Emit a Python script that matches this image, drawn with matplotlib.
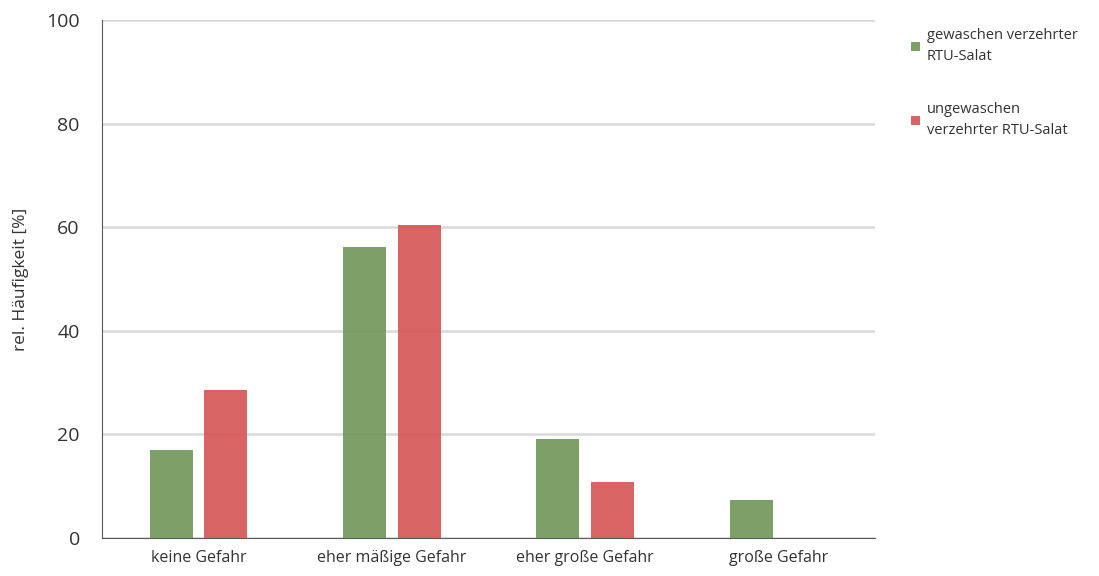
import numpy as np
import matplotlib
matplotlib.use("Agg")
import matplotlib.pyplot as plt

# data
categories = ["keine Gefahr", "eher mäßige Gefahr", "eher große Gefahr", "große Gefahr"]
gewaschen = [17.0, 56.2, 19.1, 7.3]
ungewaschen = [28.6, 60.4, 10.9, 0.0]
series_labels = ["gewaschen verzehrter\nRTU-Salat", "ungewaschen\nverzehrter RTU-Salat"]
yticks = [0, 20, 40, 60, 80, 100]

plt.rcParams['font.family'] = ['Open Sans', 'DejaVu Sans']

fig = plt.figure(figsize=(10.99, 5.76), dpi=100)
ax = fig.add_axes([102/1099, 38/576, 773/1099, 518/576])

x = np.arange(len(categories))
w = 0.223
off = 0.141
ax.bar(x - off, gewaschen, w, color='#6f9657', alpha=0.9, label=series_labels[0], zorder=3)
ax.bar(x + off, ungewaschen, w, color='#d45353', alpha=0.9, label=series_labels[1], zorder=3)

ax.set_xlim(-0.5, 3.5)
ax.set_ylim(0, 100)
ax.set_yticks(yticks)
ax.set_xticks(x)
ax.set_xticklabels(categories, fontsize=11.5, color='#333333')
ax.tick_params(axis='y', length=0, pad=16, labelsize=14, labelcolor='#333333')
ax.tick_params(axis='x', length=0, pad=9)
ax.yaxis.grid(True, color='#d9d9d9', linewidth=1.8, zorder=0)
ax.set_axisbelow(True)
for s in ['top', 'right']:
    ax.spines[s].set_visible(False)
ax.spines['left'].set_color('#595959')
ax.spines['bottom'].set_color('#595959')
ax.set_ylabel("rel. Häufigkeit [%]", fontsize=12.5, color='#333333', labelpad=12)

leg = ax.legend(loc='upper left', bbox_to_anchor=(905/1099, 1 - 22/576), bbox_transform=fig.transFigure,
                frameon=False, fontsize=10.5, handlelength=0.6, handleheight=0.6, handletextpad=0.5,
                labelspacing=2.6, borderaxespad=0)
for t in leg.get_texts():
    t.set_linespacing(1.55)
    t.set_color('#333333')

fig.savefig("out.png", dpi=100)
